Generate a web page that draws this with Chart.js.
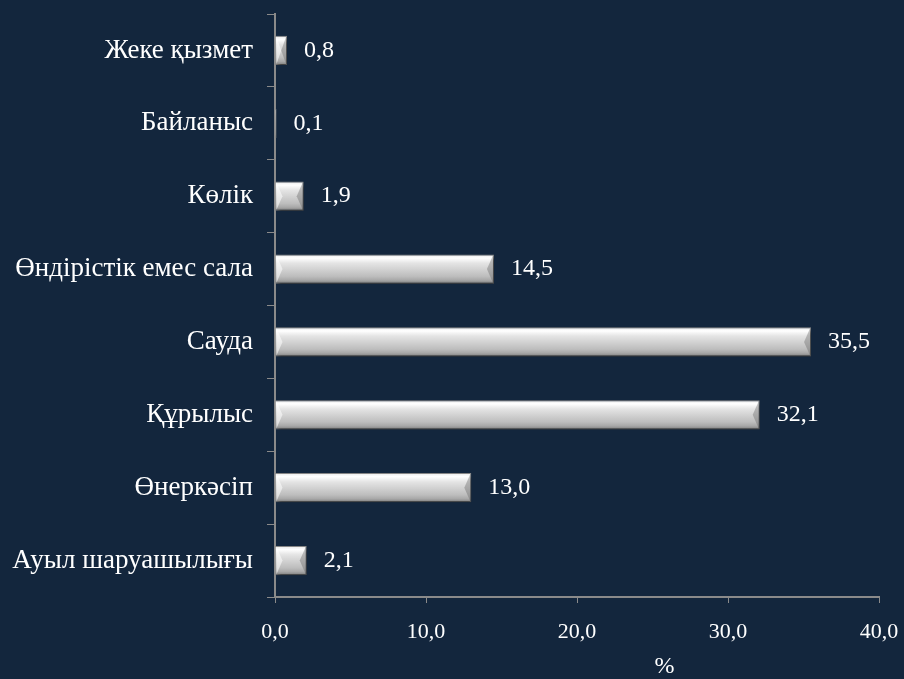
<!DOCTYPE html>
<html>
<head>
<meta charset="utf-8">
<script src="https://cdn.jsdelivr.net/npm/chart.js@4"></script>
<style>
  html, body { margin: 0; padding: 0; background: #13263d; }
  #wrap { width: 904px; height: 679px; }
</style>
</head>
<body>
<div id="wrap"><canvas id="myChart" width="904" height="679"></canvas></div>
<script>
const categories = ['Жеке қызмет', 'Байланыс', 'Көлік', 'Өндірістік емес сала', 'Сауда', 'Құрылыс', 'Өнеркәсіп', 'Ауыл шаруашылығы'];
const values = [0.8, 0.1, 1.9, 14.5, 35.5, 32.1, 13.0, 2.1];
const xTicks = [0, 10, 20, 30, 40];
const unitLabel = '%';

const fmt = (v) => v.toFixed(1).replace('.', ',');
const FONT = 'Liberation Serif';
const BAR_PCT = 0.4;

const barFill = (ctx) => {
    const chart = ctx.chart;
    const y = chart.scales.y;
    if (!chart.chartArea || !y) return '#cccccc';
    const cy = y.getPixelForValue(ctx.dataIndex);
    const h = (chart.chartArea.bottom - chart.chartArea.top) / categories.length * BAR_PCT;
    const g = chart.ctx.createLinearGradient(0, cy - h / 2, 0, cy + h / 2);
    g.addColorStop(0, '#e8e8e8');
    g.addColorStop(0.12, '#ffffff');
    g.addColorStop(0.3, '#e4e4e4');
    g.addColorStop(0.75, '#bdbdbd');
    g.addColorStop(0.88, '#a8a8a8');
    g.addColorStop(1, '#7c7c7c');
    return g;
};

const shadow = {
    id: 'shadow',
    beforeDatasetsDraw(chart) {
        const c = chart.ctx;
        c.save();
        c.shadowColor = 'rgba(0,0,0,0.6)';
        c.shadowBlur = 4;
        c.shadowOffsetX = 2;
        c.shadowOffsetY = 3;
    },
    afterDatasetsDraw(chart) {
        chart.ctx.restore();
    }
};

// bevelled ends of each bar
const bevel = {
    id: 'bevel',
    afterDatasetsDraw(chart) {
        const c = chart.ctx;
        const meta = chart.getDatasetMeta(0);
        c.save();
        meta.data.forEach((el) => {
            const x0 = el.base, x1 = el.x;
            const top = el.y - el.height / 2, bot = el.y + el.height / 2;
            const w = x1 - x0;
            if (w < 2) return;
            const b = Math.min(7, w / 2);
            c.fillStyle = 'rgba(255,255,255,0.55)';
            c.beginPath();
            c.moveTo(x0 + 1, top + 1);
            c.lineTo(x0 + b, el.y);
            c.lineTo(x0 + 1, bot - 1);
            c.closePath();
            c.fill();
            c.fillStyle = 'rgba(90,90,90,0.35)';
            c.beginPath();
            c.moveTo(x1 - 1, top + 1);
            c.lineTo(x1 - b, el.y);
            c.lineTo(x1 - 1, bot - 1);
            c.closePath();
            c.fill();
        });
        c.restore();
    }
};

const valueLabels = {
    id: 'valueLabels',
    afterDraw(chart) {
        const c = chart.ctx;
        const meta = chart.getDatasetMeta(0);
        c.save();
        c.fillStyle = '#ffffff';
        c.font = '24px "' + FONT + '"';
        c.textBaseline = 'middle';
        c.textAlign = 'left';
        meta.data.forEach((el, i) => {
            c.fillText(fmt(values[i]), el.x + 17, el.y);
        });
        // unit title, sits right of centre in the original
        c.textAlign = 'center';
        c.fillText(unitLabel, chart.scales.x.getPixelForValue(25.8), 667);
        c.restore();
    }
};

const main = () => {
    const data = {
        labels: categories,
        datasets: [{
            data: values,
            backgroundColor: barFill,
            borderColor: '#8a8a8a',
            borderWidth: 1,
            barPercentage: BAR_PCT,
            categoryPercentage: 1
        }]
    };

    const config = {
        type: 'bar',
        data: data,
        options: {
            indexAxis: 'y',
            responsive: false,
            animation: false,
            layout: { padding: { top: 14, right: 25, left: 0, bottom: 0 } },
            plugins: {
                legend: { display: false },
                tooltip: { enabled: false }
            },
            scales: {
                x: {
                    min: 0,
                    max: 40,
                    afterBuildTicks: (s) => { s.ticks = xTicks.map((v) => ({ value: v })); },
                    afterFit: (s) => { s.height = 82; s.paddingLeft = 0; s.paddingRight = 0; },
                    grid: { drawOnChartArea: false, drawTicks: true, tickLength: 6, color: '#8a8a8a' },
                    border: { color: '#8a8a8a', width: 2 },
                    ticks: { color: '#ffffff', font: { family: FONT, size: 22 }, padding: 16, callback: (v) => fmt(v) }
                },
                y: {
                    afterFit: (s) => { s.width = 275; s.paddingTop = 0; s.paddingBottom = 0; },
                    grid: { offset: true, drawOnChartArea: false, drawTicks: true, tickLength: 8, color: '#8a8a8a' },
                    border: { color: '#8a8a8a', width: 2 },
                    ticks: { color: '#ffffff', font: { family: FONT, size: 27 }, padding: 14 }
                }
            }
        },
        plugins: [shadow, bevel, valueLabels]
    };

    new Chart(document.getElementById('myChart'), config);
};

window.onload = () => main();
</script>
</body>
</html>
